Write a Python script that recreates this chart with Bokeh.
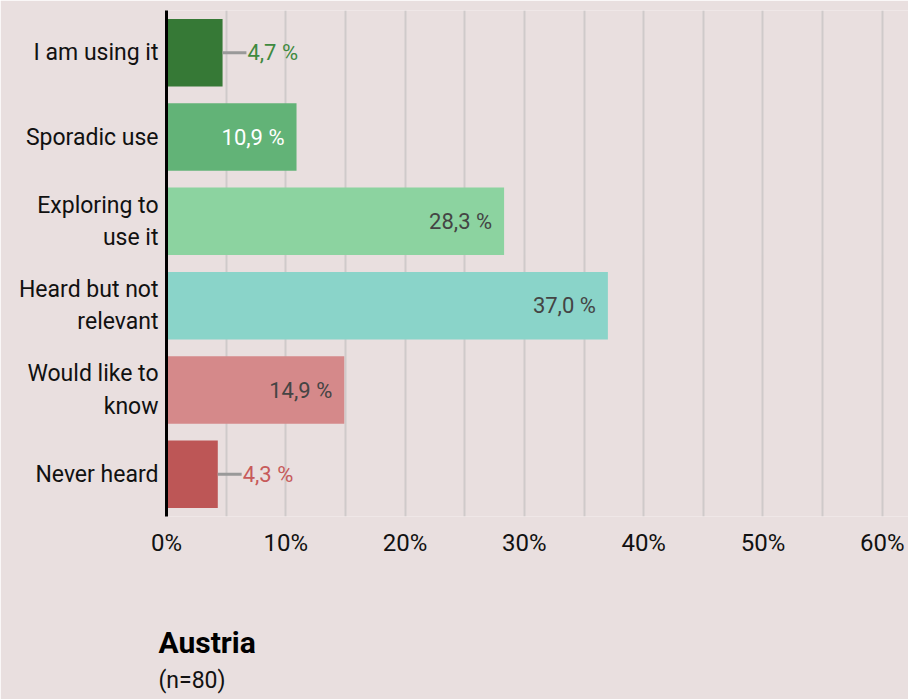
from bokeh.plotting import figure
from bokeh.models import FactorRange, Range1d, FixedTicker, ColumnDataSource, Title
from bokeh.core.properties import value
from bokeh.embed import file_html
from bokeh.resources import INLINE

categories = ["I am using it", "Sporadic use", "Exploring to\nuse it",
              "Heard but not\nrelevant", "Would like to\nknow", "Never heard"]
values = [4.7, 10.9, 28.3, 37.0, 14.9, 4.3]
labels = ["4,7 %", "10,9 %", "28,3 %", "37,0 %", "14,9 %", "4,3 %"]
bar_colors = ["#367936", "#62B377", "#8CD3A0", "#8AD4C9", "#D5898A", "#BD5656"]
label_colors = ["#3F8A3F", "#FFFFFF", "#444444", "#444444", "#444444", "#C75A5A"]
inside = [False, True, True, True, True, False]
x_ticks = [0, 10, 20, 30, 40, 50, 60]
grid_ticks = [0, 5, 10, 15, 20, 25, 30, 35, 40, 45, 50, 55, 60]
title_text = "Austria"
subtitle_text = "(n=80)"

FONT = "Roboto"
BG = "#E9DFDF"

p = figure(width=908, height=699, output_backend="svg", toolbar_location=None,
           y_range=FactorRange(factors=list(reversed(categories)), range_padding=0),
           x_range=Range1d(0, 62.2),
           min_border_left=166, min_border_right=0, min_border_top=10, min_border_bottom=183)
p.background_fill_color = BG
p.border_fill_color = BG
p.outline_line_color = None

src = ColumnDataSource(dict(cat=categories, val=values, color=bar_colors))
p.hbar(y="cat", right="val", left=0, height=0.8, color="color", source=src, line_color=None)

# inside labels
ins = [i for i in range(len(values)) if inside[i]]
src_in = ColumnDataSource(dict(cat=[categories[i] for i in ins], val=[values[i] for i in ins],
                               txt=[labels[i] for i in ins], col=[label_colors[i] for i in ins]))
p.text(x="val", y="cat", text="txt", text_color="col", source=src_in, x_offset=-12,
       text_align="right", text_baseline="middle", text_font=value(FONT), text_font_size="22px")

# outside labels with connector
outs = [i for i in range(len(values)) if not inside[i]]
src_out = ColumnDataSource(dict(cat=[categories[i] for i in outs], val=[values[i] for i in outs],
                                txt=[labels[i] for i in outs], col=[label_colors[i] for i in outs],
                                val2=[values[i] + 2.0 for i in outs]))
p.segment(x0="val", y0="cat", x1="val2", y1="cat", line_color="#999999", line_width=3, source=src_out)
p.text(x="val2", y="cat", text="txt", text_color="col", source=src_out, x_offset=1,
       text_align="left", text_baseline="middle", text_font=value(FONT), text_font_size="22px")

# axes
p.xaxis.ticker = FixedTicker(ticks=x_ticks)
p.xaxis.major_label_overrides = {t: f"{t}%" for t in x_ticks}
p.xaxis.axis_line_color = None
p.xaxis.major_tick_line_color = None
p.xaxis.minor_tick_line_color = None
p.xaxis.major_label_standoff = 6
p.xaxis.major_label_text_font = FONT
p.xaxis.major_label_text_font_size = "24px"
p.xaxis.major_label_text_color = "#111111"

p.yaxis.axis_line_color = "#000000"
p.yaxis.axis_line_width = 3
p.yaxis.major_tick_line_color = None
p.yaxis.minor_tick_line_color = None
p.yaxis.major_label_standoff = 2
p.yaxis.major_label_text_font = FONT
p.yaxis.major_label_text_font_size = "23px"
p.yaxis.major_label_text_color = "#111111"

p.xgrid.ticker = FixedTicker(ticks=grid_ticks)
p.xgrid.grid_line_color = "#CFCACA"
p.xgrid.grid_line_width = 2
p.ygrid.grid_line_color = None

# spacer, then title and subtitle below the axis
p.add_layout(Title(text=" ", standoff=55, text_font_size="1px"), "below")
p.add_layout(Title(text=title_text, align="left", offset=-8, standoff=10,
                   text_font=FONT, text_font_size="30px", text_font_style="bold",
                   text_color="#000000"), "below")
p.add_layout(Title(text=subtitle_text, align="left", offset=-8, standoff=0,
                   text_font=FONT, text_font_size="23px", text_font_style="normal",
                   text_color="#111111"), "below")

open("out.html", "w").write(file_html(p, INLINE))
